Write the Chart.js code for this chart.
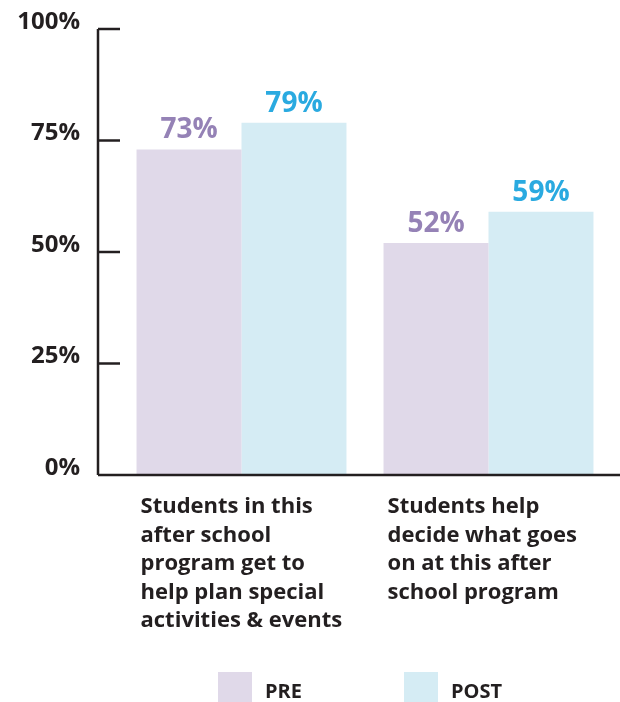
<!DOCTYPE html>
<html>
<head>
<meta charset="utf-8">
<script src="https://cdn.jsdelivr.net/npm/chart.js@4"></script>
<style>
  html, body { margin: 0; padding: 0; background: #fff; }
  #wrap { width: 620px; height: 702px; position: relative; }
</style>
</head>
<body>
<div id="wrap"><canvas id="chart"></canvas></div>
<script>
// Data
const categories = [
  ["Students in this", "after school", "program get to", "help plan special", "activities & events"],
  ["Students help", "decide what goes", "on at this after", "school program"],
];
const seriesNames = ["PRE", "POST"];
const preValues = [73, 52];
const postValues = [79, 59];
const yTicks = [0, 25, 50, 75, 100];

// Colours
const barColors = ["#e0d9e9", "#d5ecf4"];
const labelColors = ["#9582b6", "#2aaae0"];
const ink = "#231f20";
const FONT = "'Open Sans', 'Noto Sans', sans-serif";

// Axis lines, tick labels, value labels, category labels and legend
const decorPlugin = {
  id: "decor",
  afterDatasetsDraw(c) {
    const ctx = c.ctx;
    const y = c.scales.y;
    const axisX = 98;
    const y0 = y.getPixelForValue(0);
    const y100 = y.getPixelForValue(100);

    ctx.save();
    ctx.strokeStyle = ink;
    ctx.lineWidth = 2.5;
    ctx.lineCap = "butt";
    ctx.beginPath();
    ctx.moveTo(axisX, y100);
    ctx.lineTo(axisX, y0);
    ctx.stroke();

    ctx.font = "bold 24px " + FONT;
    ctx.textAlign = "right";
    ctx.textBaseline = "middle";
    ctx.fillStyle = ink;
    yTicks.forEach((v) => {
      const py = y.getPixelForValue(v);
      ctx.beginPath();
      ctx.moveTo(axisX, py);
      ctx.lineTo(v === 0 ? c.width : axisX + 22, py);
      ctx.stroke();
      ctx.fillText(v + "%", 80, py - 7);
    });

    // value labels
    ctx.font = "bold 28px " + FONT;
    ctx.textAlign = "center";
    ctx.textBaseline = "alphabetic";
    c.data.datasets.forEach((ds, i) => {
      const meta = c.getDatasetMeta(i);
      meta.data.forEach((bar, j) => {
        ctx.fillStyle = labelColors[i];
        ctx.fillText(ds.data[j] + "%", bar.x, bar.y - 11);
      });
    });

    // category labels, left aligned under each group
    const pre = c.getDatasetMeta(0).data;
    ctx.font = "bold 22px " + FONT;
    ctx.textAlign = "left";
    ctx.fillStyle = ink;
    categories.forEach((lines, j) => {
      const left = pre[j].x - pre[j].width / 2 + 4;
      lines.forEach((line, k) => {
        ctx.fillText(line, left, 513 + k * 28.5);
      });
    });

    // legend
    const legendX = [218, 404];
    ctx.font = "bold 20px " + FONT;
    seriesNames.forEach((name, i) => {
      ctx.fillStyle = barColors[i];
      ctx.fillRect(legendX[i], 672, 34, 31);
      ctx.fillStyle = ink;
      ctx.fillText(name, legendX[i] + 47, 698);
    });
    ctx.restore();
  },
};

const chart = new Chart(document.getElementById("chart"), {
  type: "bar",
  data: {
    labels: categories.map((l) => l.join(" ")),
    datasets: [
      { label: seriesNames[0], data: preValues, backgroundColor: barColors[0] },
      { label: seriesNames[1], data: postValues, backgroundColor: barColors[1] },
    ],
  },
  options: {
    responsive: true,
    maintainAspectRatio: false,
    animation: false,
    devicePixelRatio: 1,
    layout: { padding: { top: 29, bottom: 227, right: 8, left: 0 } },
    plugins: {
      legend: { display: false },
      tooltip: { enabled: false },
    },
    datasets: {
      bar: { categoryPercentage: 0.85, barPercentage: 1.0, borderWidth: 0 },
    },
    scales: {
      x: {
        ticks: { display: false },
        grid: { display: false },
        border: { display: false },
        afterFit: (scale) => { scale.height = 0; },
      },
      y: {
        min: 0,
        max: 100,
        afterBuildTicks: (scale) => {
          scale.ticks = yTicks.map((v) => ({ value: v }));
        },
        afterFit: (scale) => { scale.width = 118; },
        ticks: { display: false },
        grid: { display: false, drawTicks: false },
        border: { display: false },
      },
    },
  },
  plugins: [decorPlugin],
});
</script>
</body>
</html>
